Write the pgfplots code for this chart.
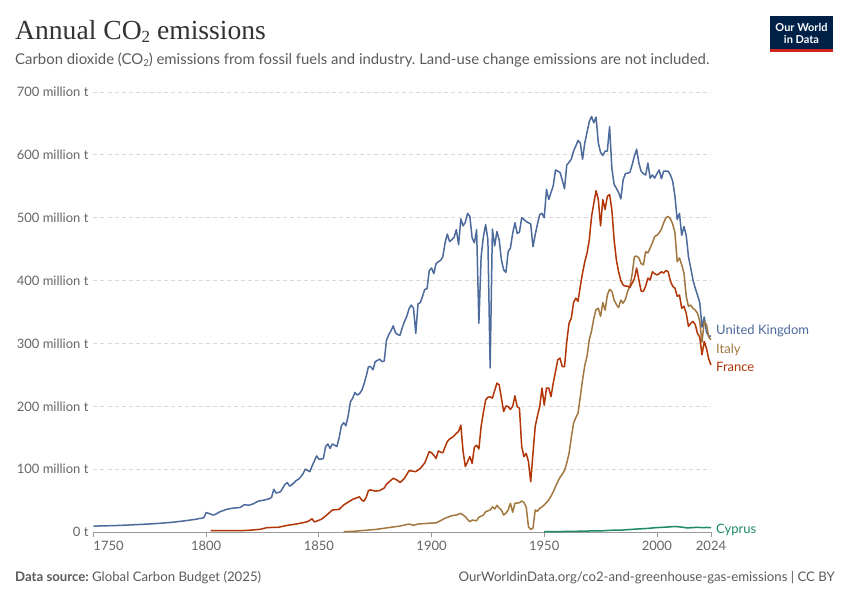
\documentclass[border=0pt]{standalone}
\usepackage{pgfplots}
\pgfplotsset{compat=1.18}
\usepackage{fontspec}
\setmainfont{Lato}
\newfontfamily\titlefont{Liberation Serif}
\frenchspacing
\definecolor{ukc}{HTML}{4C6A9C}
\definecolor{frc}{HTML}{B13507}
\definecolor{itc}{HTML}{A2773F}
\definecolor{cyc}{HTML}{1E8A6A}
\definecolor{txt}{HTML}{5B5B5B}
\definecolor{tick}{HTML}{666666}
\definecolor{owid}{HTML}{002147}
\definecolor{owidred}{HTML}{CE261E}
\begin{document}
\begin{tikzpicture}[x=1pt,y=1pt]
\path[use as bounding box,fill=white] (0,0) rectangle (850,600);
% title
\node[anchor=base west,inner sep=0] at (15,560) {\titlefont\fontsize{27.6}{30}\selectfont\color[HTML]{333333}Annual CO\raisebox{-3pt}{\fontsize{17}{18}\selectfont 2} emissions};
\node[anchor=base west,inner sep=0] at (15,535) {\fontsize{14.9}{17}\selectfont\color{txt}Carbon dioxide (CO\raisebox{-2pt}{\fontsize{9.5}{10}\selectfont 2}) emissions from fossil fuels and industry. Land-use change emissions are not included.};
% logo
\fill[owid] (770,548) rectangle (833,584);
\fill[owidred] (770,548) rectangle (833,551);
\node[align=center,inner sep=0,text=white,font=\bfseries\fontsize{11}{12}\selectfont] at (801.5,567) {Our World\\in Data};
% footer
\node[anchor=base west,inner sep=0] at (15,19) {\fontsize{13.2}{15}\selectfont\color{txt}\textbf{Data source:} Global Carbon Budget (2025)};
\node[anchor=base east,inner sep=0] at (835,19) {\fontsize{13.2}{15}\selectfont\color{txt}OurWorldinData.org/co2-and-greenhouse-gas-emissions | CC BY};
\begin{axis}[
  at={(93.5pt,68pt)}, anchor=south west,
  width=617.5pt, height=440pt, scale only axis,
  xmin=1750, xmax=2024, ymin=0, ymax=700,
  axis x line=bottom, axis y line=left,
  y axis line style={draw=none},
  x axis line style={-, draw=black!40, line width=0.8pt},
  ytick={0,100,...,700},
  yticklabels={0 t,100 million t,200 million t,300 million t,400 million t,500 million t,600 million t,700 million t},
  ytick style={draw=none},
  xtick={1750,1800,1850,1900,1950,2000,2024},
  xticklabels={\makebox[0pt][l]{1750},1800,1850,1900,1950,2000,2024},
  xtick style={draw=black!40, line width=0.8pt},
  xtick align=outside, major tick length=5pt,
  tick label style={font=\fontsize{13}{15}\selectfont, text=tick},
  xticklabel style={yshift=-1pt},
  yticklabel style={xshift=1pt},
  ymajorgrids, grid style={draw=black!15, line width=0.8pt, dash pattern=on 4pt off 3pt},
  clip=false,
  every axis plot/.append style={line width=1.5pt, line join=round, no marks},
]
% United Kingdom
\addplot[ukc] coordinates {
(1750,9.4)(1755,9.8)(1760,10.3)(1765,11.0)(1770,11.9)(1775,12.8)(1780,14.0)(1785,15.5)(1790,17.6)(1795,20.0)(1797,21.5)(1798,21.8)(1799,23)
(1800,31)(1801,29.7)(1802,28.5)(1803,27)(1804,28)(1806,32)(1809,36)(1812,38)(1815,39)(1817,43.5)(1819,42.5)(1821,45)(1823,49)(1826,51)(1828,53)(1829,55)
(1830,68)(1831,62)(1832,63)(1833,64)(1835,76)(1836,78.5)(1837,73)(1838,75)(1840,82)(1841,84)(1842,88)(1843,93)(1844,100)(1845,98)(1846,96)(1847,105)(1848,113)(1849,121)
(1850,116)(1851,116)(1852,117)(1853,136)(1854,140)(1855,133)(1856,140)(1857,138)(1858,136)(1859,150)(1860,169)(1861,174)(1862,169)(1863,185)(1864,207)(1865,213)(1866,222)(1867,218)(1868,220)(1869,225)
(1870,235)(1871,248)(1872,263)(1873,263)(1874,258)(1875,271)(1876,273)(1877,275)(1878,271)(1879,272)(1880,305)(1881,314)(1882,320)(1883,328)(1884,317)(1885,314)(1886,313)(1887,325)(1888,335)(1889,343)
(1890,355)(1891,361)(1892,356)(1893,316)(1894,363)(1895,365)(1896,375)(1897,386)(1898,387)(1899,416)(1900,420)(1901,411)(1902,427)(1903,430)(1904,432)(1905,438)(1906,460)(1907,474)(1908,462)(1909,465)
(1910,469)(1911,481)(1912,457)(1913,498)(1914,487)(1915,493)(1916,507)(1917,502)(1918,468)(1919,460)(1920,481)(1921,332)(1922,438)(1923,470)(1924,489)(1925,465)(1926,261)(1927,482)(1928,455)(1929,478)
(1930,465)(1931,433)(1932,417)(1933,413)(1934,446)(1935,452)(1936,475)(1937,492)(1938,475)(1939,477)(1940,500)(1941,497)(1942,494)(1943,492)(1944,490)(1945,454)(1946,473)(1947,490)(1948,505)(1949,507)
(1950,500)(1951,545)(1952,529)(1953,540)(1954,551)(1955,576)(1956,574)(1957,572)(1958,560)(1959,546)(1960,584)(1961,588)(1962,593)(1963,606)(1964,614)(1965,623)(1966,619)(1967,593)(1968,619)(1969,636)
(1970,653)(1971,661)(1972,651)(1973,660)(1974,619)(1975,604)(1976,599)(1977,606)(1978,606)(1979,645)(1980,579)(1981,553)(1982,547)(1983,540)(1984,530)(1985,560)(1986,570)(1987,571)(1988,572)(1989,584)
(1990,598)(1991,609)(1992,587)(1993,574)(1994,570)(1995,568)(1996,587)(1997,563)(1998,568)(1999,563)(2000,570)(2001,576)(2002,562)(2003,574)(2004,574)(2005,574)(2006,568)(2007,558)(2008,534)(2009,497)
(2010,507)(2011,472)(2012,486)(2013,472)(2014,438)(2015,420)(2016,401)(2017,388)(2018,377)(2019,365)(2020,326)(2021,342)(2022,318)(2023,311)(2024,312)
};
% Italy
\addplot[itc] coordinates {
(1861,0.5)(1865,1)(1870,2.5)(1875,4)(1880,6.5)(1882,7.5)(1886,9.5)(1890,12.7)(1892,10.6)(1894,12.7)(1899,14)(1902,14.5)(1904,18)(1906,22)(1909,26)(1911,27)(1913,29.7)(1914,27)(1915,24.4)(1916,20)(1917,16.4)(1918,19)
(1920,18)(1921,23.4)(1923,27)(1924,32.3)(1926,35)(1927,40)(1928,36.6)(1929,42.5)(1930,38)(1931,35)(1932,27)(1933,30)(1934,35)(1935,45.7)(1936,31.4)(1937,45.7)(1938,46)(1939,46.7)
(1940,49.4)(1941,47)(1942,40)(1943,8.4)(1944,4.2)(1945,6)(1946,35)(1947,33)(1948,37.7)(1949,40)(1950,43)(1951,47)(1952,51)(1953,57)(1954,64)(1955,72)(1956,80)(1957,87)(1958,92)(1959,98)
(1960,110)(1961,125)(1962,150)(1963,173)(1964,182)(1965,189)(1966,215)(1967,242)(1968,265)(1969,280)(1970,306)(1971,320)(1972,340)(1973,354)(1974,356)(1975,343)(1976,365)(1977,353)(1978,377)(1979,386)
(1980,383)(1981,369)(1982,362)(1983,357)(1984,369)(1985,364)(1986,370)(1987,383)(1988,391)(1989,410)(1990,438)(1991,439)(1992,436)(1993,427)(1994,425)(1995,446)(1996,444)(1997,452)(1998,460)(1999,470)
(2000,472)(2001,476)(2002,482)(2003,492)(2004,500)(2005,502)(2006,498)(2007,490)(2008,476)(2009,430)(2010,436)(2011,425)(2012,412)(2013,375)(2014,359)(2015,361)(2016,356)(2017,353)(2018,348)(2019,335)
(2020,302)(2021,335)(2022,330)(2023,310)(2024,306)
};
% France
\addplot[frc] coordinates {
(1802,2)(1810,2)(1815,2)(1820,3)(1824,4.3)(1827,7)(1832,7.5)(1836,10.6)(1840,12.7)(1845,16.4)(1847,21)(1848,16)(1851,20)(1853,25.5)(1856,35)(1859,36)(1861,43)(1865,52)(1868,56)(1869,51)
(1870,49)(1871,55)(1872,66)(1873,67)(1875,65)(1877,66)(1879,70)(1880,76)(1883,85.5)(1885,82)(1886,78.5)(1888,85.5)(1890,97.6)(1893,96)(1895,101)(1897,110)(1899,128)
(1900,126)(1901,122)(1902,117)(1903,129)(1904,127)(1905,126)(1906,135)(1907,144)(1908,148)(1909,150)(1910,153)(1911,157)(1912,160)(1913,170)(1914,128)(1915,104)(1916,112)(1917,120)(1918,109)(1919,135)
(1920,138)(1921,132)(1922,168)(1923,190)(1924,210)(1925,214.5)(1926,215)(1927,213)(1928,225)(1929,236.8)(1930,234)(1931,213)(1932,191.6)(1933,200.6)(1934,199.5)(1935,195)(1936,200)(1937,216.6)(1938,199.5)(1939,197)
(1940,135.8)(1941,120)(1942,125)(1943,112)(1944,80)(1945,125)(1946,168)(1947,185)(1948,199.5)(1949,229)(1950,202)(1951,229)(1952,229)(1953,215.4)(1954,236.8)(1955,255)(1956,274)(1957,276.6)(1958,263)(1959,263)
(1960,303)(1961,332)(1962,340)(1963,365)(1964,372)(1965,367)(1966,391)(1967,412)(1968,430)(1969,444)(1970,465)(1971,502)(1972,523)(1973,543)(1974,529)(1975,487)(1976,529)(1977,513)(1978,534)(1979,537)
(1980,513)(1981,465)(1982,433)(1983,414)(1984,400)(1985,393)(1986,391)(1987,391)(1988,389)(1989,396)(1990,403)(1991,420)(1992,401)(1993,383)(1994,383)(1995,391)(1996,404)(1997,401)(1998,414)(1999,411)
(2000,409)(2001,411)(2002,414)(2003,412)(2004,416)(2005,414)(2006,399)(2007,391)(2008,388)(2009,375)(2010,377)(2011,356)(2012,359)(2013,348)(2014,327)(2015,332)(2016,335)(2017,330)(2018,316)(2019,310)
(2020,282)(2021,303)(2022,292)(2023,275)(2024,266)
};
% Cyprus
\addplot[cyc] coordinates {
(1950,0.4)(1955,0.6)(1960,0.9)(1965,1.2)(1970,1.6)(1974,2)(1975,1.8)(1980,2.8)(1985,3.2)(1990,4.5)(1995,5.5)(2000,7.0)(2005,8.0)(2008,8.8)(2010,8.2)(2012,7.3)(2013,6.5)(2015,6.8)(2018,7.4)(2020,7.0)(2022,7.2)(2024,7.0)
};
\node[anchor=west,inner sep=0,text=ukc,font=\fontsize{13}{15}\selectfont] at (axis cs:2024,320) [xshift=5pt] {United Kingdom};
\node[anchor=west,inner sep=0,text=itc,font=\fontsize{13}{15}\selectfont] at (axis cs:2024,290) [xshift=5pt] {Italy};
\node[anchor=west,inner sep=0,text=frc,font=\fontsize{13}{15}\selectfont] at (axis cs:2024,262) [xshift=5pt] {France};
\node[anchor=west,inner sep=0,text=cyc,font=\fontsize{13}{15}\selectfont] at (axis cs:2024,3.5) [xshift=5pt] {Cyprus};
\end{axis}
\end{tikzpicture}
\end{document}
